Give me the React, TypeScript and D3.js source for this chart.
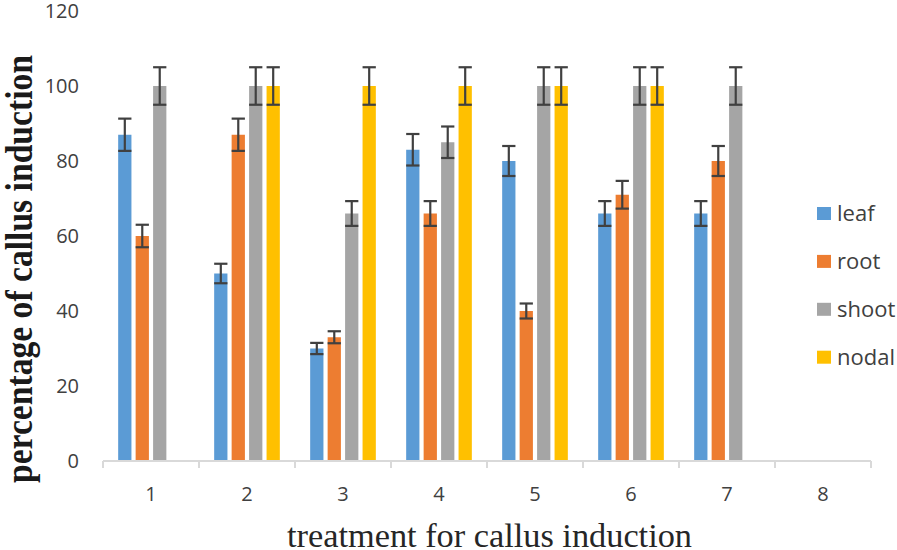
import React from "react";
import * as d3 from "d3";

const categories = ["1", "2", "3", "4", "5", "6", "7", "8"];
const seriesNames = ["leaf", "root", "shoot", "nodal"];
const seriesColors = ["#5B9BD5", "#ED7D31", "#A5A5A5", "#FFC000"];
const leafValues = [87, 50, 30, 83, 80, 66, 66, null];
const rootValues = [60, 87, 33, 66, 40, 71, 80, null];
const shootValues = [100, 100, 66, 85, 100, 100, 100, null];
const nodalValues = [null, 100, 100, 100, 100, 100, null, null];
const leafErrors = [4.3, 2.6, 1.5, 4.2, 4, 3.3, 3.3, null];
const rootErrors = [3, 4.3, 1.6, 3.3, 2, 3.7, 4, null];
const shootErrors = [5, 5, 3.3, 4.2, 5, 5, 5, null];
const nodalErrors = [null, 5, 5, 5, 5, 5, null, null];
const yTicks = [0, 20, 40, 60, 80, 100, 120];

const W = 897;
const H = 550;

export default function App() {
  const values = [leafValues, rootValues, shootValues, nodalValues];
  const errors = [leafErrors, rootErrors, shootErrors, nodalErrors];

  const x0 = d3.scaleBand<string>().domain(categories).range([103, 871]).padding(0);
  const bw0 = x0.bandwidth();
  const x1 = d3
    .scaleBand<string>()
    .domain(seriesNames)
    .range([bw0 * 0.158, bw0 * 0.842])
    .paddingInner(0.24)
    .paddingOuter(0);
  const y = d3.scaleLinear().domain([0, 120]).range([461, 11]);

  const boundaries = categories.map((c) => x0(c) as number).concat([871]);

  return (
    <svg
      width={W}
      height={H}
      style={{ position: "absolute", left: 0, top: 0, background: "#fff" }}
    >
      {/* bars */}
      {seriesNames.map((s, si) =>
        categories.map((c, ci) => {
          const v = values[si][ci];
          if (v == null) return null;
          const bx = (x0(c) as number) + (x1(s) as number);
          return (
            <rect
              key={s + c}
              x={bx}
              y={y(v)}
              width={x1.bandwidth()}
              height={y(0) - y(v)}
              fill={seriesColors[si]}
            />
          );
        })
      )}
      {/* error bars */}
      {seriesNames.map((s, si) =>
        categories.map((c, ci) => {
          const v = values[si][ci];
          const e = errors[si][ci];
          if (v == null || e == null) return null;
          const bx = (x0(c) as number) + (x1(s) as number);
          const cx = bx + x1.bandwidth() / 2;
          const hw = x1.bandwidth() / 2;
          return (
            <g key={"e" + s + c} stroke="#404040" strokeWidth={2.2}>
              <line x1={cx} x2={cx} y1={y(v + e)} y2={y(v - e)} />
              <line x1={cx - hw} x2={cx + hw} y1={y(v + e)} y2={y(v + e)} />
              <line x1={cx - hw} x2={cx + hw} y1={y(v - e)} y2={y(v - e)} />
            </g>
          );
        })
      )}
      {/* x axis */}
      <line x1={103} x2={871} y1={y(0)} y2={y(0)} stroke="#D9D9D9" strokeWidth={2} />
      {boundaries.map((b, i) => (
        <line key={"t" + i} x1={b} x2={b} y1={y(0)} y2={y(0) + 7} stroke="#D9D9D9" strokeWidth={2} />
      ))}
      {categories.map((c) => (
        <text
          key={"xl" + c}
          x={(x0(c) as number) + bw0 / 2}
          y={501}
          textAnchor="middle"
          fontFamily="'Open Sans', sans-serif"
          fontSize={20}
          fill="#404040"
        >
          {c}
        </text>
      ))}
      {/* y tick labels */}
      {yTicks.map((t) => (
        <text
          key={"yl" + t}
          x={79}
          y={y(t) + 7}
          textAnchor="end"
          fontFamily="'Open Sans', sans-serif"
          fontSize={20}
          fill="#404040"
        >
          {t}
        </text>
      ))}
      {/* axis titles */}
      <text
        transform="translate(32,269) rotate(-90)"
        textAnchor="middle"
        fontFamily="'Liberation Serif', 'Times New Roman', serif"
        fontWeight="bold"
        fontSize={38}
        textLength={428}
        lengthAdjust="spacingAndGlyphs"
        fill="#1a1a1a"
      >
        percentage of callus induction
      </text>
      <text
        x={489.5}
        y={547}
        textAnchor="middle"
        fontFamily="'Liberation Serif', 'Times New Roman', serif"
        fontSize={34}
        textLength={405}
        lengthAdjust="spacingAndGlyphs"
        fill="#262626"
      >
        treatment for callus induction
      </text>
      {/* legend */}
      {seriesNames.map((s, i) => {
        const cy = 213.5 + i * 47.9;
        return (
          <g key={"lg" + s}>
            <rect x={817} y={cy - 6.5} width={14} height={13} fill={seriesColors[i]} />
            <text
              x={837}
              y={cy + 7.5}
              fontFamily="'Open Sans', sans-serif"
              fontSize={22}
              fill="#404040"
            >
              {s}
            </text>
          </g>
        );
      })}
    </svg>
  );
}
